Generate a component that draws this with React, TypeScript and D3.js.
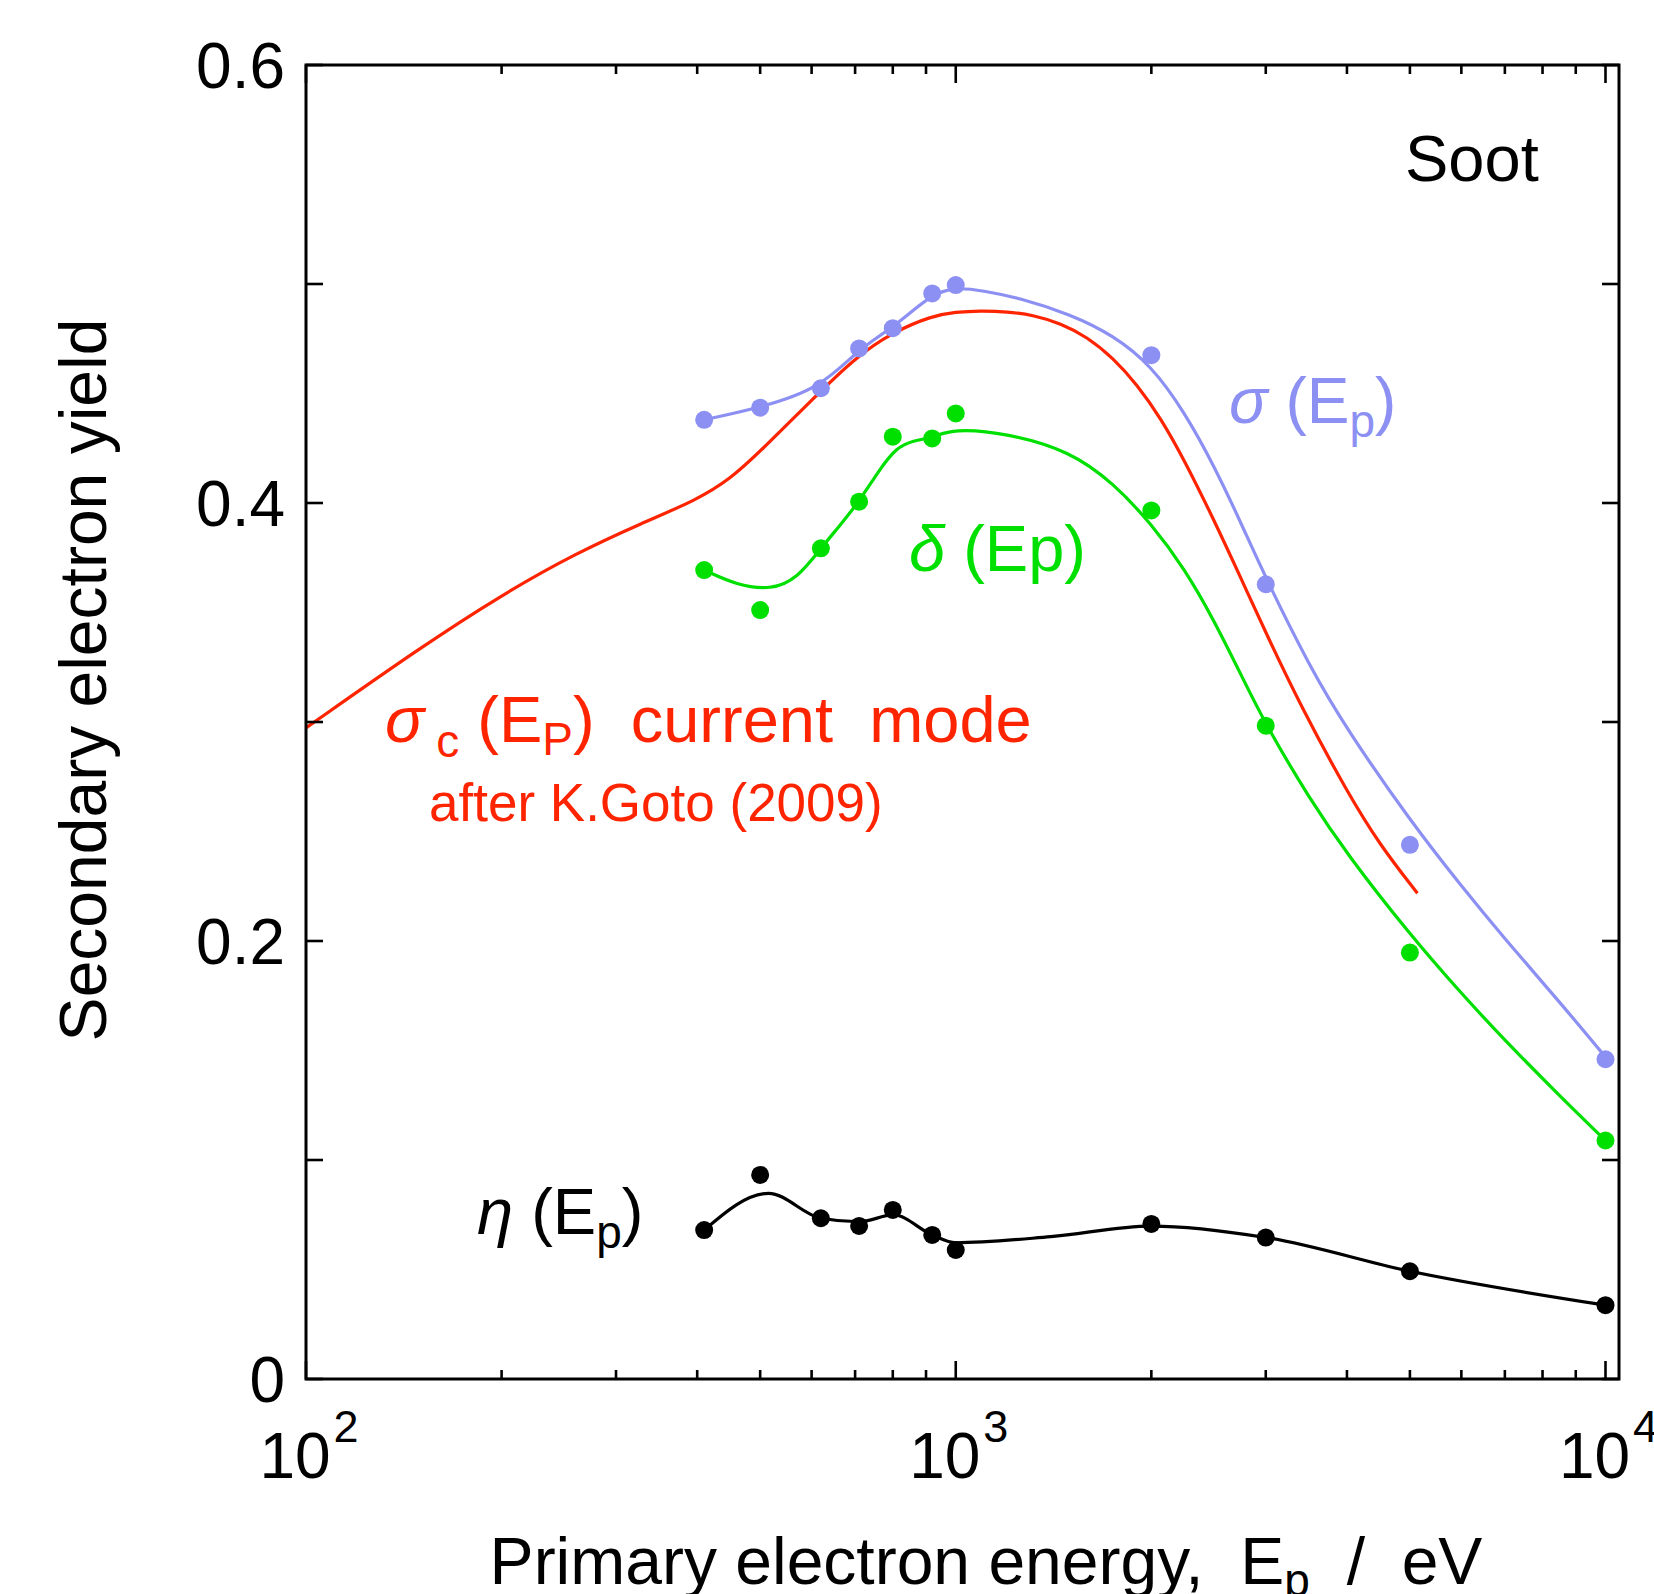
import React from "react";
import * as d3 from "d3";

// measured energies (eV)
const energies = [410, 500, 620, 710, 800, 920, 1000, 2000, 3000, 5000, 10000];
// sigma, delta, eta yields
const sigmaPts = [0.438, 0.4435, 0.4524, 0.4706, 0.4798, 0.4957, 0.4995, 0.4675, 0.3629, 0.2439, 0.146];
const deltaPts = [0.3694, 0.3511, 0.3793, 0.4006, 0.4303, 0.4295, 0.4409, 0.3966, 0.2983, 0.1947, 0.1089];
const etaPts = [0.068, 0.0932, 0.0734, 0.0699, 0.0772, 0.0658, 0.0589, 0.0708, 0.0646, 0.0492, 0.0337];

// fitted curves
const sigmaFitE = [410, 500, 620, 710, 800, 920, 1000, 1100, 1250, 1500, 1750, 2000, 2250, 2500, 2750, 3000, 3500, 4000, 5000, 6000, 7000, 8500, 10000];
const sigmaFitY = [0.438, 0.4435, 0.4524, 0.4706, 0.4798, 0.4957, 0.4985, 0.497, 0.4937, 0.4862, 0.4765, 0.4628, 0.4415, 0.4168, 0.3907, 0.3657, 0.3256, 0.2966, 0.255, 0.225, 0.2009, 0.1722, 0.147];

const deltaFitE = [410, 460, 520, 570, 620, 660, 710, 760, 811, 860, 920, 990, 1200, 1500, 1750, 2000, 2250, 2500, 2750, 3000, 3500, 4000, 5000, 6000, 7000, 8500, 10000];
const deltaFitY = [0.3694, 0.3625, 0.3603, 0.3655, 0.3793, 0.389, 0.4006, 0.4145, 0.4255, 0.4285, 0.4298, 0.434, 0.4319, 0.4237, 0.409, 0.3905, 0.37, 0.3462, 0.3214, 0.2987, 0.2652, 0.2397, 0.2029, 0.176, 0.1546, 0.1293, 0.1089];

const etaFitE = [410, 515, 620, 710, 802, 920, 1000, 1400, 2000, 3000, 5000, 10000];
const etaFitY = [0.068, 0.0848, 0.0734, 0.0718, 0.0749, 0.0658, 0.0622, 0.065, 0.0698, 0.0646, 0.0492, 0.0337];

// current-mode curve after K.Goto (2009)
const gotoE = [100, 150, 200, 260, 330, 400, 450, 500, 600, 700, 800, 920, 1000, 1090, 1200, 1320, 1450, 1590, 1750, 1900, 2070, 2250, 2490, 2750, 3000, 3400, 4000, 4500, 5135];
const gotoY = [0.2973, 0.334, 0.358, 0.377, 0.391, 0.4015, 0.411, 0.4235, 0.447, 0.4664, 0.478, 0.4855, 0.4872, 0.4878, 0.4874, 0.4857, 0.482, 0.476, 0.466, 0.4542, 0.4386, 0.4194, 0.393, 0.3654, 0.3408, 0.307, 0.2682, 0.2436, 0.2218];

const yTickValues = [0, 0.1, 0.2, 0.3, 0.4, 0.5, 0.6];
const yTickLabels = ["0", "0.2", "0.4", "0.6"];
const xTickExponents = [2, 3, 4];

const BLUE = "#8d90f3";
const GREEN = "#00e000";
const RED = "#ff2400";
const FONT = "'Liberation Sans', Arial, Helvetica, sans-serif";

export default function App() {
  const width = 1654;
  const height = 1594;
  const left = 306, right = 1619, top = 65, bottom = 1379;

  const x = d3.scaleLog().domain([100, 10490]).range([left, right]);
  const y = d3.scaleLinear().domain([0, 0.6]).range([bottom, top]);

  // smooth fits drawn as B-splines, the wiggly eta fit as monotone cubic
  const smooth = d3
    .line<[number, number]>()
    .x((d) => x(d[0]))
    .y((d) => y(d[1]))
    .curve(d3.curveBasis);
  const wiggly = d3
    .line<[number, number]>()
    .x((d) => x(d[0]))
    .y((d) => y(d[1]))
    .curve(d3.curveMonotoneX);

  const zip = (a: number[], b: number[]) => a.map((v, i) => [v, b[i]] as [number, number]);

  const xTicks = x.ticks();
  const isMajor = (v: number) => Math.abs(Math.log10(v) - Math.round(Math.log10(v))) < 1e-9;

  const dots = (vals: number[], color: string) =>
    energies.map((e, i) => <circle key={color + i} cx={x(e)} cy={y(vals[i])} r={9} fill={color} />);

  return (
    <svg width={width} height={height} style={{ position: "absolute", left: 0, top: 0, fontFamily: FONT }}>
      <rect width={width} height={height} fill="#fff" />

      {/* curves */}
      <path d={smooth(zip(gotoE, gotoY)) || ""} fill="none" stroke={RED} strokeWidth={3.2} />
      <path d={smooth(zip(sigmaFitE, sigmaFitY)) || ""} fill="none" stroke={BLUE} strokeWidth={3.2} />
      <path d={smooth(zip(deltaFitE, deltaFitY)) || ""} fill="none" stroke={GREEN} strokeWidth={3.2} />
      <path d={wiggly(zip(etaFitE, etaFitY)) || ""} fill="none" stroke="#000" strokeWidth={3.2} />
      {dots(sigmaPts, BLUE)}
      {dots(deltaPts, GREEN)}
      {dots(etaPts, "#000")}

      {/* frame */}
      <rect x={left} y={top} width={right - left} height={bottom - top} fill="none" stroke="#000" strokeWidth={3} />

      {/* x ticks, bottom and top, inward */}
      {xTicks.map((t, i) => {
        const len = isMajor(t) ? 18 : 9;
        return (
          <g key={"xt" + i} stroke="#000" strokeWidth={2.6}>
            <line x1={x(t)} x2={x(t)} y1={bottom} y2={bottom - len} />
            <line x1={x(t)} x2={x(t)} y1={top} y2={top + len} />
          </g>
        );
      })}

      {/* y ticks, left and right, inward */}
      {yTickValues.map((t, i) => (
        <g key={"yt" + i} stroke="#000" strokeWidth={2.6}>
          <line x1={left} x2={left + 17} y1={y(t)} y2={y(t)} />
          <line x1={right} x2={right - 17} y1={y(t)} y2={y(t)} />
        </g>
      ))}

      {/* y tick labels */}
      {yTickLabels.map((s) => (
        <text key={"yl" + s} x={left - 21} y={y(+s)} dy="0.36em" textAnchor="end" fontSize={64} fill="#000">
          {s}
        </text>
      ))}

      {/* x tick labels */}
      {xTickExponents.map((p) => (
        <text key={"xl" + p} x={x(Math.pow(10, p)) + 3} y={1478} textAnchor="middle" fontSize={64} fill="#000">
          <tspan>10</tspan>
          <tspan fontSize={45} dx={3} dy={-36}>{p}</tspan>
        </text>
      ))}

      {/* axis titles */}
      <text transform={`translate(106,680) rotate(-90)`} textAnchor="middle" fontSize={66} fill="#000">
        Secondary electron yield
      </text>
      <text x={986} y={1584} textAnchor="middle" fontSize={66} fill="#000" style={{ whiteSpace: "pre" }}>
        <tspan>{"Primary electron energy,  E"}</tspan>
        <tspan fontSize={46} dy={12}>p</tspan>
        <tspan dy={-12}>{"  /  eV"}</tspan>
      </text>

      {/* annotations */}
      <text x={1405} y={181} fontSize={65} fill="#000">Soot</text>

      <text x={1229} y={423} fontSize={64} fill={BLUE} style={{ whiteSpace: "pre" }}>
        <tspan fontStyle="italic">σ</tspan>
        <tspan>{" (E"}</tspan>
        <tspan fontSize={46} dy={14}>p</tspan>
        <tspan dy={-14}>)</tspan>
      </text>

      <text x={909} y={571} fontSize={65} fill={GREEN} style={{ whiteSpace: "pre" }}>
        <tspan fontStyle="italic">δ</tspan>
        <tspan>{" (Ep)"}</tspan>
      </text>

      <text x={385} y={742} fontSize={65} fill={RED} style={{ whiteSpace: "pre" }}>
        <tspan fontStyle="italic">σ</tspan>
        <tspan fontSize={46} dx={12} dy={15}>c</tspan>
        <tspan dy={-15}>{" (E"}</tspan>
        <tspan fontSize={46} dy={13}>P</tspan>
        <tspan dy={-13}>{")  current  mode"}</tspan>
      </text>
      <text x={429} y={821} fontSize={53} fill={RED}>after K.Goto (2009)</text>

      <text x={477} y={1234} fontSize={65} fill="#000" style={{ whiteSpace: "pre" }}>
        <tspan fontStyle="italic">η</tspan>
        <tspan>{" (E"}</tspan>
        <tspan fontSize={46} dy={14}>p</tspan>
        <tspan dy={-14}>)</tspan>
      </text>
    </svg>
  );
}
